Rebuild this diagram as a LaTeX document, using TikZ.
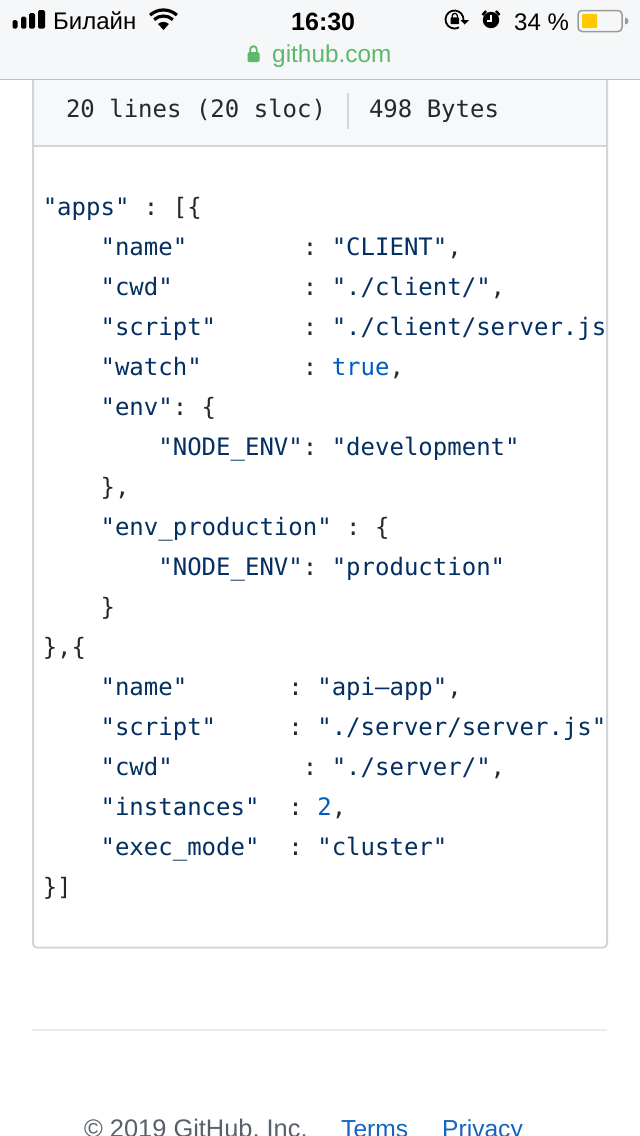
\documentclass[tikz,border=0pt]{standalone}
\usepackage{fontspec}
\setmainfont{Liberation Sans}
\newfontfamily\codefont{DejaVu Sans Mono}
\definecolor{navy}{HTML}{032F62}
\definecolor{ink}{HTML}{24292E}
\definecolor{lit}{HTML}{005CC5}
\definecolor{edge}{HTML}{D1D5DA}
\definecolor{panel}{HTML}{F6F8FA}
\definecolor{barbg}{HTML}{F6F7F8}
\definecolor{okgreen}{HTML}{5CB86A}
\definecolor{foot}{HTML}{586069}
\definecolor{linkblue}{HTML}{1565C0}
\definecolor{hrule}{HTML}{EAECEF}
\definecolor{barline}{HTML}{BDBFC1}
\definecolor{battgray}{HTML}{9A9A9A}
\definecolor{battfill}{HTML}{FFC800}
\newcommand{\K}[1]{\textcolor{navy}{#1}}
\newcommand{\V}[1]{\textcolor{lit}{#1}}
\newcommand{\Sp}[1]{\hspace{#1\fontcharwd\font`0}}
\tikzset{
  codeline/.style={anchor=base west,inner sep=0pt,outer sep=0pt,text=ink,font=\codefont\fontsize{24}{24}\selectfont\frenchspacing},
  statustext/.style={anchor=base west,inner sep=0pt,text=black,font=\fontsize{24}{24}\selectfont},
  foottext/.style={anchor=base west,inner sep=0pt,font=\fontsize{24.6}{24.6}\selectfont},
}
\begin{document}
\begin{tikzpicture}[x=1pt,y=-1pt]
\useasboundingbox (0,0) rectangle (640,1136);
\clip (0,0) rectangle (640,1136);
\fill[white] (0,0) rectangle (640,1136);
% file box
\path[fill=panel] (33,80) rectangle (606,146);
\draw[edge,line width=2pt,rounded corners=4pt] (33,70) -- (33,947.5) -- (607,947.5) -- (607,70);
\draw[edge,line width=2pt] (33,146) -- (607,146);
\draw[edge,line width=1.5pt] (348,93) -- (348,129);
\node[codeline] (meta1) at (66,117) {20 lines (20 sloc)};
\node[codeline] (meta2) at (369,117) {498 Bytes};
% code
\begin{scope}
\clip (34,150) rectangle (606,946);
\node[codeline] (l1) at (42.8,215) {\K{"apps"} : [\{};
\node[codeline] (l2) at (42.8,255) {\Sp4\K{"name"}\Sp8: \K{"CLIENT"},};
\node[codeline] (l3) at (42.8,295) {\Sp4\K{"cwd"}\Sp9: \K{"./client/"},};
\node[codeline] (l4) at (42.8,335) {\Sp4\K{"script"}\Sp6: \K{"./client/server.js"},};
\node[codeline] (l5) at (42.8,375) {\Sp4\K{"watch"}\Sp7: \V{true},};
\node[codeline] (l6) at (42.8,415) {\Sp4\K{"env"}: \{};
\node[codeline] (l7) at (42.8,455) {\Sp8\K{"NODE\_ENV"}: \K{"development"}};
\node[codeline] (l8) at (42.8,495) {\Sp4\},};
\node[codeline] (l9) at (42.8,535) {\Sp4\K{"env\_production"} : \{};
\node[codeline] (l10) at (42.8,575) {\Sp8\K{"NODE\_ENV"}: \K{"production"}};
\node[codeline] (l11) at (42.8,615) {\Sp4\}};
\node[codeline] (l12) at (42.8,655) {\},\{};
\node[codeline] (l13) at (42.8,695) {\Sp4\K{"name"}\Sp7: \K{"api–app"},};
\node[codeline] (l14) at (42.8,735) {\Sp4\K{"script"}\Sp5: \K{"./server/server.js"},};
\node[codeline] (l15) at (42.8,775) {\Sp4\K{"cwd"}\Sp9: \K{"./server/"},};
\node[codeline] (l16) at (42.8,815) {\Sp4\K{"instances"}\Sp2: \V{2},};
\node[codeline] (l17) at (42.8,855) {\Sp4\K{"exec\_mode"}\Sp2: \K{"cluster"}};
\node[codeline] (l18) at (42.8,895) {\}]};
\end{scope}
% footer
\draw[hrule,line width=2pt] (32,1030) -- (607,1030);
\node[foottext,text=foot,font=\fontsize{25.4}{25.4}\selectfont] (copy) at (84,1137) {© 2019 GitHub, Inc.};
\node[foottext,text=linkblue] (terms) at (341,1137) {Terms};
\node[foottext,text=linkblue] (privacy) at (442,1137) {Privacy};
% browser bar
\fill[barbg] (0,0) rectangle (640,79);
\draw[barline,line width=1.2pt] (0,79.5) -- (640,79.5);
% signal bars
\foreach \x/\w/\t in {12.7/4.8/20,21/5.4/16.7,29/6/13,38/7/10}
  \fill[black,rounded corners=1.5pt] (\x,\t) rectangle (\x+\w,28.7);
\node[statustext] (carrier) at (53,29.3) {Билайн};
% wifi
\begin{scope}[shift={(163.5,30)}]
  \fill (0,0) -- (-5.5,-6) arc[start angle=-132,end angle=-48,radius=8.1] -- cycle;
  \draw[line width=3.2pt] (-9.4,-10.4) arc[start angle=-132,end angle=-48,radius=14];
  \draw[line width=3.2pt] (-13.4,-14.9) arc[start angle=-132,end angle=-48,radius=20];
\end{scope}
\node[statustext,font=\bfseries\fontsize{25}{25}\selectfont] (clock) at (291,30) {16:30};
% rotation lock
\draw[line width=1.8pt] (454.5,19.5) ++(5:9) arc[start angle=5,end angle=-300,radius=9];
\fill (460.5,20) -- (469,20) -- (464.7,24.5) -- cycle;
\fill[rounded corners=0.8pt] (450.6,17.3) rectangle (459,24.2);
\draw[line width=1.3pt] (452.2,17.5) -- (452.2,16) arc[start angle=180,end angle=360,radius=2.6] -- (457.4,17.5);
% alarm
\fill (491,20) circle[radius=8.2];
\draw[white,line width=1.5pt] (491,14.5) -- (491,21) -- (486.5,21);
\draw[line width=2.4pt] (482.5,15) -- (486,11);
\draw[line width=2.4pt] (499.5,15) -- (496,11);
\node[statustext] (battxt) at (514,30) {34 \%};
% battery
\draw[battgray,line width=1.5pt,rounded corners=4pt] (578,10.5) rectangle (622,31.5);
\fill[battfill,rounded corners=1pt] (582,14) rectangle (597,28);
\fill[battgray] (625,17.5) arc[start angle=-90,end angle=90,radius=3.5] -- cycle;
% url
\fill[okgreen,rounded corners=1.5pt] (247.5,52) rectangle (259.5,62);
\draw[okgreen,line width=1.8pt] (250.2,53) -- (250.2,49.5) arc[start angle=180,end angle=360,radius=3.3] -- (256.8,53);
\node[statustext,text=okgreen,font=\fontsize{24.4}{24.4}\selectfont] (url) at (272,62) {github.com};
\end{tikzpicture}
\end{document}
